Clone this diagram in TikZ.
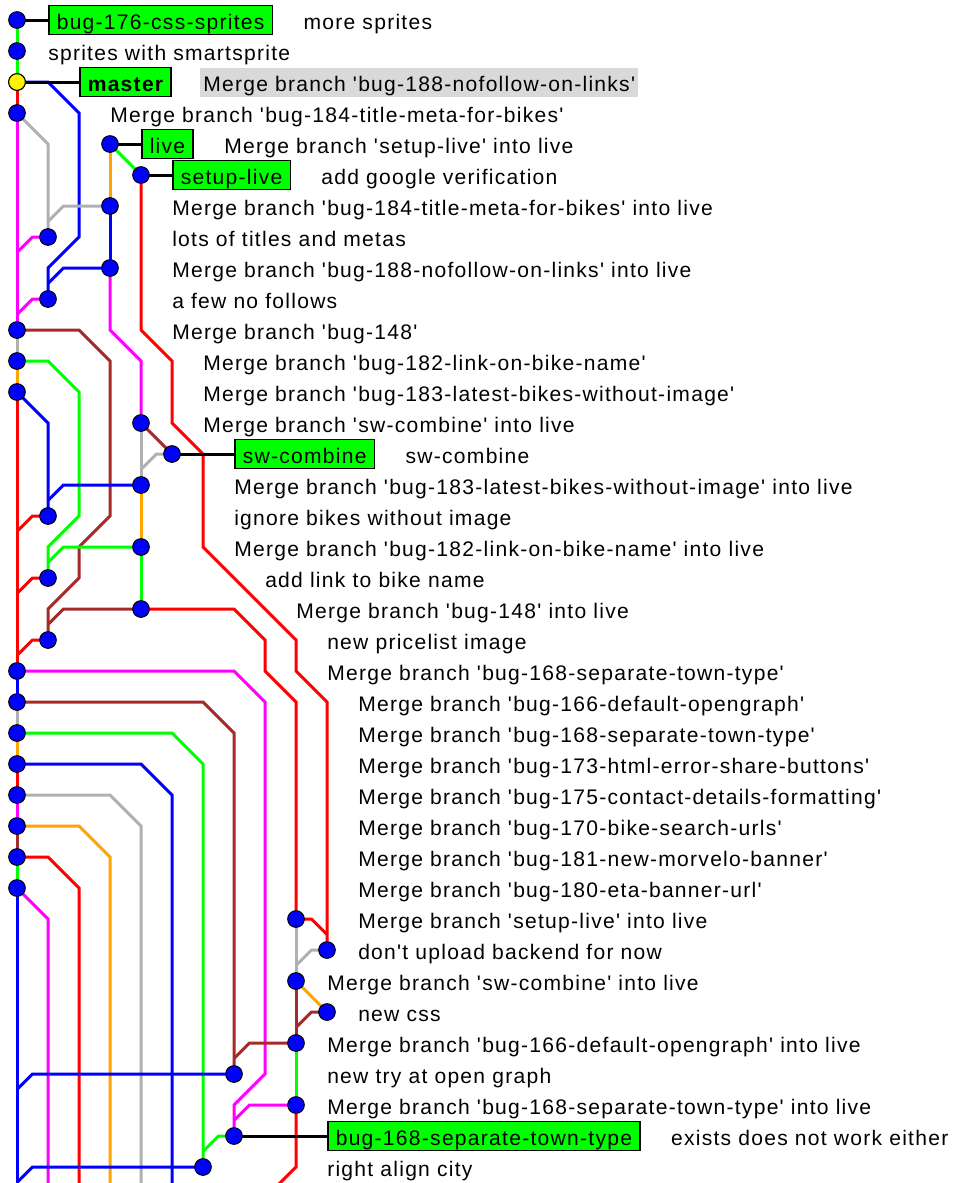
\documentclass[tikz,border=0pt]{standalone}
\usepackage{fontspec}
\usepackage{tikz}
\usetikzlibrary{positioning}

\newfontfamily\gitfont{Liberation Sans}[LetterSpace=6.0]

\definecolor{gitgreen}{HTML}{00FF00}
\definecolor{gitred}{HTML}{FF0000}
\definecolor{gitblue}{HTML}{0000FF}
\definecolor{gitmagenta}{HTML}{FF00FF}
\definecolor{gitgray}{HTML}{B0B0B0}
\definecolor{gitbrown}{HTML}{A52A2A}
\definecolor{gitorange}{HTML}{FFA500}
\definecolor{hlgray}{HTML}{D9D9D9}

\tikzset{
  ln/.style={line width=2.25pt},
  tagln/.style={line width=2.25pt, black},
  commit/.style={circle, draw=black, line width=0.75pt, fill=gitblue, minimum size=12.5pt, inner sep=0pt},
  head/.style={commit, fill=yellow},
  msg/.style={anchor=west, inner sep=0pt, text height=17pt, text depth=3.5pt,
    font=\gitfont\fontsize{15.8}{18}\selectfont},
  tag/.style={msg, draw=black, line width=1.2pt, fill=gitgreen, inner xsep=6pt, minimum height=21.75pt},
  hl/.style={msg, fill=hlgray, inner xsep=2.25pt, minimum height=21.75pt},
}

\begin{document}
\begin{tikzpicture}[x=23.25pt, y=-23.25pt]
        \useasboundingbox (-0.5484,-0.6452) rectangle (30.3548,37.5161);

        % commit positions, one per row
        \foreach \c [count=\r from 0] in {0,0,0,0,3,4,3,1,3,1,0,0,0,4,5,4,1,4,1,4,1,0,0,0,0,0,0,0,0,9,10,9,10,9,7,9,7,6}
          \coordinate (c\r) at (\c,\r);
        \foreach \c in {0,...,5}
          \coordinate (bot\c) at (\c,37.6);
        \coordinate (bot8) at (8,38);

        % top of master
        \draw[ln, gitgreen] (c0) -- (c1) -- (c2);
        \draw[ln, gitred] (c2) -- (c3);
        \draw[ln, gitblue] (c2) -- (1,2) -- (2,3) -- (2,7) -- (1,8) -- (c9);
        \draw[ln, gitmagenta] (c3) -- (c10);
        \draw[ln, gitgray] (c3) -- (1,4) -- (c7);

        % live and its merges
        \draw[ln, gitorange] (c4) -- (c6);
        \draw[ln, gitgreen] (c4) -- (c5);
        \draw[ln, gitred] (c5) -- (4,10) -- (5,11) -- (5,13) -- (6,14) -- (6,17) -- (9,20) -- (9,21) -- (10,22) -- (c30);
        \draw[ln, gitblue] (c6) -- (c8);
        \draw[ln, gitgray] (c6) -- (1.5,6) -- (1,6.5);
        \draw[ln, gitmagenta] (c7) -- (0.5,7) -- (0,7.5);
        \draw[ln, gitmagenta] (c8) -- (3,10) -- (4,11) -- (c13);
        \draw[ln, gitblue] (c8) -- (1.5,8) -- (1,8.5);
        \draw[ln, gitmagenta] (c9) -- (0.5,9) -- (0,9.5);

        % bug branches
        \draw[ln, gitgray] (c10) -- (c11);
        \draw[ln, gitbrown] (c10) -- (2,10) -- (3,11) -- (3,16) -- (2,17) -- (2,18) -- (1,19) -- (c20);
        \draw[ln, gitorange] (c11) -- (c12);
        \draw[ln, gitgreen] (c11) -- (1,11) -- (2,12) -- (2,16) -- (1,17) -- (c18);
        \draw[ln, gitred] (c12) -- (c21);
        \draw[ln, gitblue] (c12) -- (1,13) -- (c16);
        \draw[ln, gitgray] (c13) -- (c15);
        \draw[ln, gitbrown] (c13) -- (c14);
        \draw[ln, gitgray] (c14) -- (4.5,14) -- (4,14.5);
        \draw[ln, gitorange] (c15) -- (c17);
        \draw[ln, gitblue] (c15) -- (1.5,15) -- (1,15.5);
        \draw[ln, gitred] (c16) -- (0.5,16) -- (0,16.5);
        \draw[ln, gitgreen] (c17) -- (c19);
        \draw[ln, gitgreen] (c17) -- (1.5,17) -- (1,17.5);
        \draw[ln, gitred] (c18) -- (0.5,18) -- (0,18.5);
        \draw[ln, gitred] (c19) -- (7,19) -- (8,20) -- (8,21) -- (9,22) -- (c29);
        \draw[ln, gitbrown] (c19) -- (1.5,19) -- (1,19.5);
        \draw[ln, gitred] (c20) -- (0.5,20) -- (0,20.5);

        % merges on master
        \draw[ln, gitblue] (c21) -- (c22);
        \draw[ln, gitmagenta] (c21) -- (7,21) -- (8,22) -- (8,34) -- (7,35) -- (c36);
        \draw[ln, gitgray] (c22) -- (c23);
        \draw[ln, gitbrown] (c22) -- (6,22) -- (7,23) -- (c34);
        \draw[ln, gitorange] (c23) -- (c24);
        \draw[ln, gitgreen] (c23) -- (5,23) -- (6,24) -- (c37);
        \draw[ln, gitred] (c24) -- (c25);
        \draw[ln, gitblue] (c24) -- (4,24) -- (5,25) -- (bot5);
        \draw[ln, gitmagenta] (c25) -- (c26);
        \draw[ln, gitgray] (c25) -- (3,25) -- (4,26) -- (bot4);
        \draw[ln, gitbrown] (c26) -- (c27);
        \draw[ln, gitorange] (c26) -- (2,26) -- (3,27) -- (bot3);
        \draw[ln, gitgreen] (c27) -- (c28);
        \draw[ln, gitred] (c27) -- (1,27) -- (2,28) -- (bot2);
        \draw[ln, gitblue] (c28) -- (bot0);
        \draw[ln, gitmagenta] (c28) -- (1,29) -- (bot1);

        % bottom of live
        \draw[ln, gitgray] (c29) -- (c31);
        \draw[ln, gitred] (c29) -- (9.5,29) -- (10,29.5);
        \draw[ln, gitgray] (c30) -- (9.5,30) -- (9,30.5);
        \draw[ln, gitbrown] (c31) -- (c33);
        \draw[ln, gitorange] (c31) -- (c32);
        \draw[ln, gitbrown] (c32) -- (9.5,32) -- (9,32.5);
        \draw[ln, gitgreen] (c33) -- (c35);
        \draw[ln, gitbrown] (c33) -- (7.5,33) -- (7,33.5);
        \draw[ln, gitblue] (c34) -- (0.5,34) -- (0,34.5);
        \draw[ln, gitred] (c35) -- (9,37) -- (bot8);
        \draw[ln, gitmagenta] (c35) -- (7.5,35) -- (7,35.5);
        \draw[ln, gitgreen] (c36) -- (6.5,36) -- (6,36.5);
        \draw[ln, gitblue] (c37) -- (0.5,37) -- (0,37.5);

        % branch labels
        \node[tag] (b0) at (1,0) {bug-176-css-sprites};
        \node[tag] (b2) at (2,2) {\bfseries master};
        \node[tag] (b4) at (4,4) {live};
        \node[tag] (b5) at (5,5) {setup-live};
        \node[tag] (b14) at (7,14) {sw-combine};
        \node[tag] (b36) at (10,36) {bug-168-separate-town-type};

        % commit messages
        \node[msg, right=22.5pt of b0] (m0) {more sprites};
        \node[msg] (m1) at (1,1) {sprites with smartsprite};
        \node[hl, right=21pt of b2] (m2) {Merge branch 'bug-188-nofollow-on-links'};
        \node[msg] (m3) at (3,3) {Merge branch 'bug-184-title-meta-for-bikes'};
        \node[msg, right=22.5pt of b4] (m4) {Merge branch 'setup-live' into live};
        \node[msg, right=22.5pt of b5] (m5) {add google verification};
        \node[msg] (m6) at (5,6) {Merge branch 'bug-184-title-meta-for-bikes' into live};
        \node[msg] (m7) at (5,7) {lots of titles and metas};
        \node[msg] (m8) at (5,8) {Merge branch 'bug-188-nofollow-on-links' into live};
        \node[msg] (m9) at (5,9) {a few no follows};
        \node[msg] (m10) at (5,10) {Merge branch 'bug-148'};
        \node[msg] (m11) at (6,11) {Merge branch 'bug-182-link-on-bike-name'};
        \node[msg] (m12) at (6,12) {Merge branch 'bug-183-latest-bikes-without-image'};
        \node[msg] (m13) at (6,13) {Merge branch 'sw-combine' into live};
        \node[msg, right=22.5pt of b14] (m14) {sw-combine};
        \node[msg] (m15) at (7,15) {Merge branch 'bug-183-latest-bikes-without-image' into live};
        \node[msg] (m16) at (7,16) {ignore bikes without image};
        \node[msg] (m17) at (7,17) {Merge branch 'bug-182-link-on-bike-name' into live};
        \node[msg] (m18) at (8,18) {add link to bike name};
        \node[msg] (m19) at (9,19) {Merge branch 'bug-148' into live};
        \node[msg] (m20) at (10,20) {new pricelist image};
        \node[msg] (m21) at (10,21) {Merge branch 'bug-168-separate-town-type'};
        \node[msg] (m22) at (11,22) {Merge branch 'bug-166-default-opengraph'};
        \node[msg] (m23) at (11,23) {Merge branch 'bug-168-separate-town-type'};
        \node[msg] (m24) at (11,24) {Merge branch 'bug-173-html-error-share-buttons'};
        \node[msg] (m25) at (11,25) {Merge branch 'bug-175-contact-details-formatting'};
        \node[msg] (m26) at (11,26) {Merge branch 'bug-170-bike-search-urls'};
        \node[msg] (m27) at (11,27) {Merge branch 'bug-181-new-morvelo-banner'};
        \node[msg] (m28) at (11,28) {Merge branch 'bug-180-eta-banner-url'};
        \node[msg] (m29) at (11,29) {Merge branch 'setup-live' into live};
        \node[msg] (m30) at (11,30) {don't upload backend for now};
        \node[msg] (m31) at (10,31) {Merge branch 'sw-combine' into live};
        \node[msg] (m32) at (11,32) {new css};
        \node[msg] (m33) at (10,33) {Merge branch 'bug-166-default-opengraph' into live};
        \node[msg] (m34) at (10,34) {new try at open graph};
        \node[msg] (m35) at (10,35) {Merge branch 'bug-168-separate-town-type' into live};
        \node[msg, right=22.5pt of b36] (m36) {exists does not work either};
        \node[msg] (m37) at (10,37) {right align city};

        % label ties
        \draw[tagln] (c0) -- (b0);
        \draw[tagln] (c2) -- (b2);
        \draw[tagln] (c4) -- (b4);
        \draw[tagln] (c5) -- (b5);
        \draw[tagln] (c14) -- (b14);
        \draw[tagln] (c36) -- (b36);

        % commit dots
        \foreach \r in {0,...,37}
          \node[commit] (d\r) at (c\r) {};
        \node[head] (dhead) at (c2) {};
\end{tikzpicture}
\end{document}
